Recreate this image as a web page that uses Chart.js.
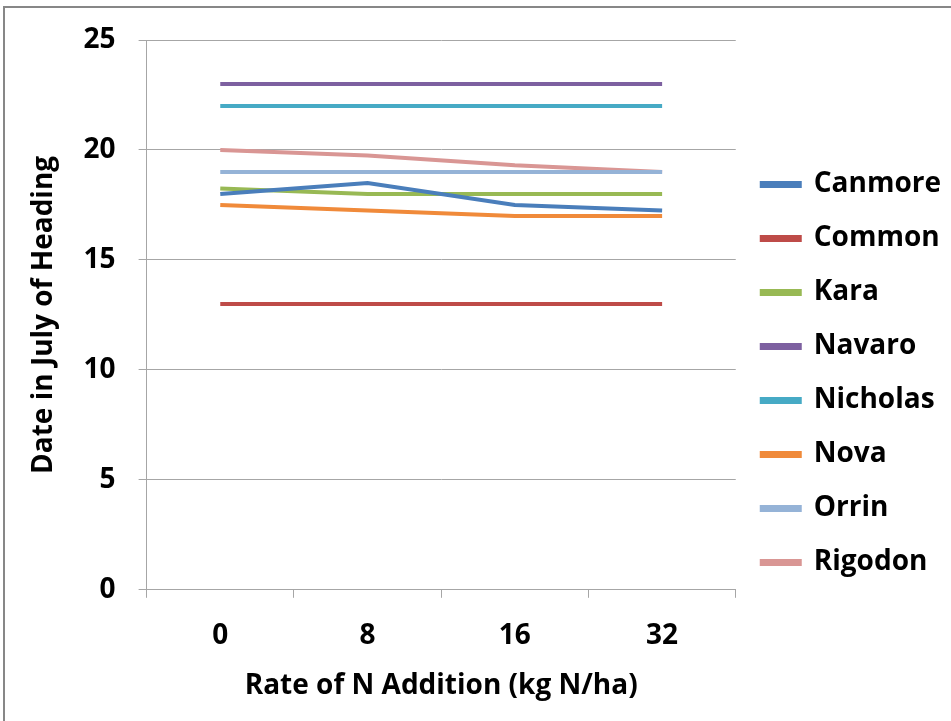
<!DOCTYPE html>
<html>
<head>
<meta charset="utf-8">
<script src="https://cdn.jsdelivr.net/npm/chart.js@4.4.1/dist/chart.umd.min.js"></script>
<style>
  body { margin: 0; background: #fff; overflow: hidden; }
  #frame { position: absolute; left: 3px; top: 6px; width: 1000px; height: 1000px; border: 2px solid #878787; }
  #chart { position: absolute; left: 0; top: 0; }
</style>
</head>
<body>
<div id="frame"></div>
<canvas id="chart" width="951" height="721"></canvas>
<script>
// N rates (kg N/ha)
const rates = ['0', '8', '16', '32'];

// heading date in July, per variety
const canmore  = [18, 18.5, 17.5, 17.25];
const common   = [13, 13, 13, 13];
const kara     = [18.25, 18, 18, 18];
const navaro   = [23, 23, 23, 23];
const nicholas = [22, 22, 22, 22];
const nova     = [17.5, 17.25, 17, 17];
const orrin    = [19, 19, 19, 19];
const rigodon  = [20, 19.75, 19.3, 19];

const yTicks = [0, 5, 10, 15, 20, 25];

const gridGrey = '#a6a6a6';
const boldFont = (size) => ({ family: 'Open Sans', weight: 'bold', size: size });

function series(label, data, color) {
  return {
    label: label,
    data: data,
    borderColor: color,
    backgroundColor: color,
    borderWidth: 4,
    pointRadius: 0,
    tension: 0,
    fill: false,
  };
}

new Chart(document.getElementById('chart').getContext('2d'), {
  type: 'line',
  data: {
    labels: rates,
    datasets: [
      series('Canmore', canmore, '#4A7EBB'),
      series('Common', common, '#BE4B48'),
      series('Kara', kara, '#98B954'),
      series('Navaro', navaro, '#7D60A0'),
      series('Nicholas', nicholas, '#46AAC5'),
      series('Nova', nova, '#F08A3A'),
      series('Orrin', orrin, '#95B3D7'),
      series('Rigodon', rigodon, '#D99694'),
    ],
  },
  options: {
    responsive: false,
    animation: false,
    layout: {
      padding: { top: 40, left: 23, right: 0, bottom: 14 },
    },
    plugins: {
      tooltip: { enabled: false },
      legend: {
        position: 'right',
        labels: {
          color: '#000',
          font: boldFont(28),
          boxWidth: 38,
          boxHeight: 3,
          padding: 26,
        },
      },
    },
    scales: {
      x: {
        type: 'category',
        offset: true,
        grid: { drawOnChartArea: false, offset: true, color: gridGrey, tickLength: 8 },
        border: { color: gridGrey },
        ticks: { color: '#000', font: boldFont(28), padding: 21 },
        title: {
          display: true,
          text: 'Rate of N Addition (kg N/ha)',
          color: '#000',
          font: boldFont(28),
          padding: { top: -4 },
        },
      },
      y: {
        min: 0,
        max: 25,
        afterBuildTicks: (axis) => { axis.ticks = yTicks.map(v => ({ value: v })); },
        grid: { color: gridGrey, tickLength: 8 },
        border: { color: gridGrey },
        ticks: { color: '#000', font: boldFont(28), padding: 23 },
        title: {
          display: true,
          text: 'Date in July of Heading',
          color: '#000',
          font: boldFont(28),
          padding: { bottom: 0 },
        },
      },
    },
  },
});
</script>
</body>
</html>
